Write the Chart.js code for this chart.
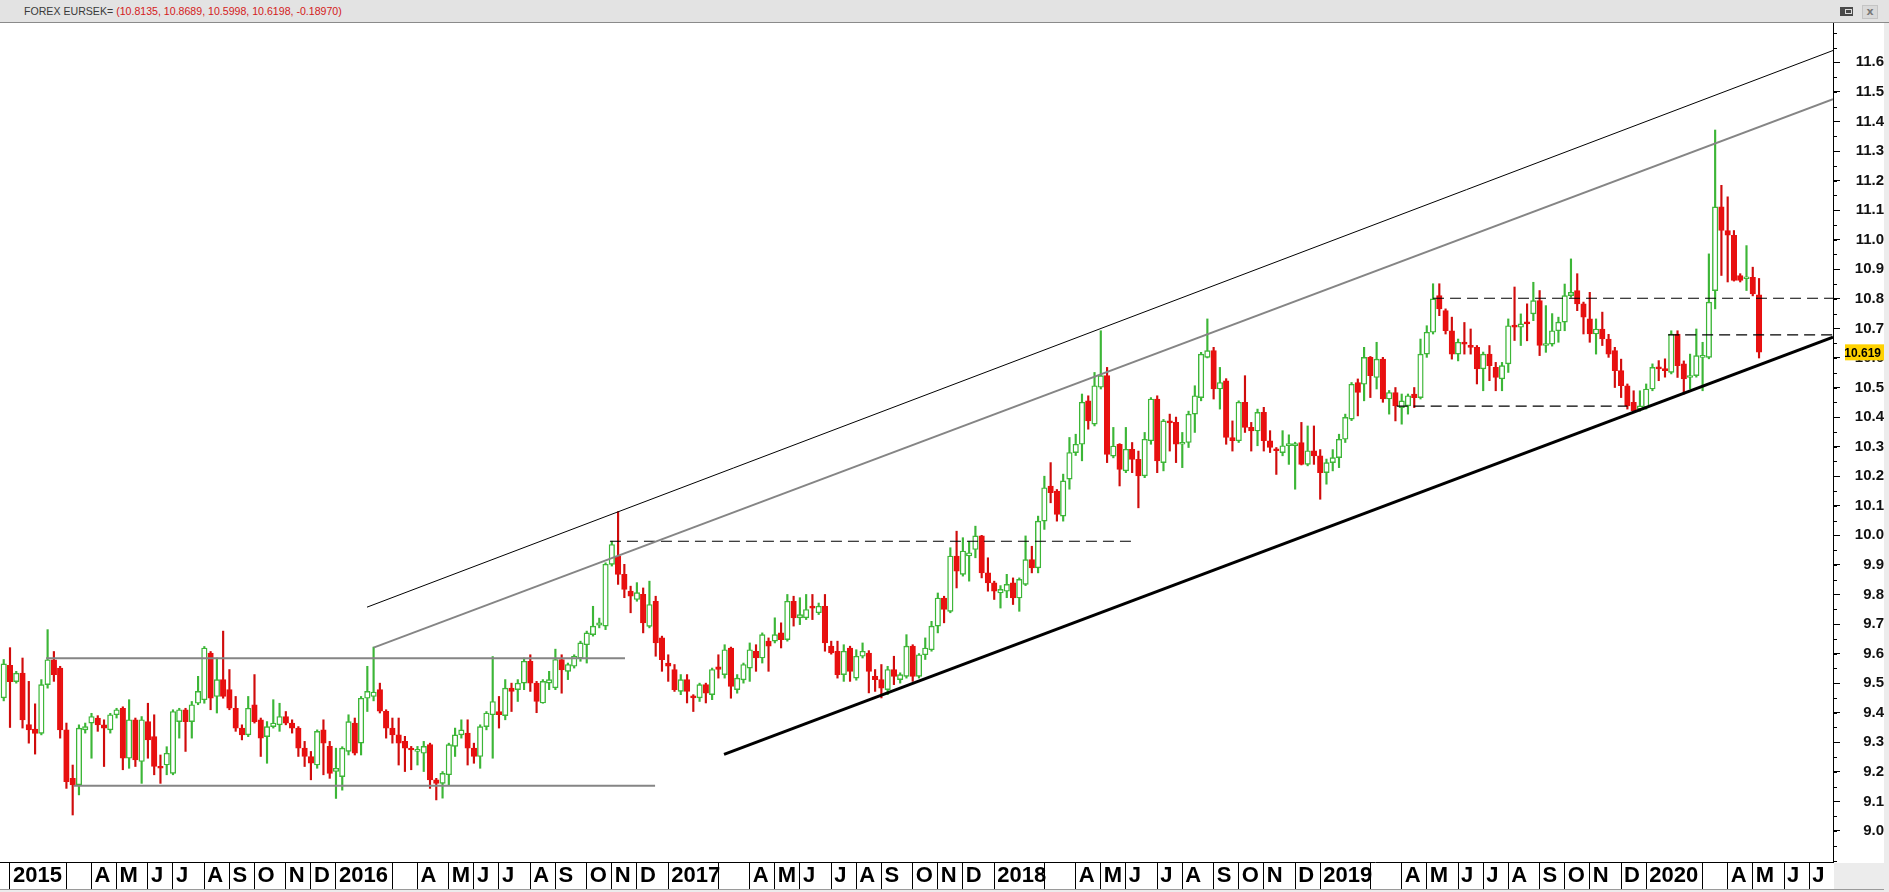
<!DOCTYPE html>
<html>
<head>
<meta charset="utf-8">
<script src="https://cdn.jsdelivr.net/npm/chart.js@4.4.0/dist/chart.umd.min.js"></script>
<style>
  html, body { margin: 0; padding: 0; background: #ececec; overflow: hidden; width: 1889px; height: 892px; }
  #hdr { position: absolute; left: 0; top: 0; width: 1889px; height: 22px; background: #e3e3e3;
         border-bottom: 1px solid #8a8a8a; font: 10.6px "Liberation Sans", Arial, sans-serif; line-height: 22px; }
  #hdr .txt { position: absolute; left: 24px; top: 0; white-space: nowrap; }
  #hdr .sym { color: #3a3a3a; }
  #hdr .vals { color: #d42020; }
  #hdr .restore { position: absolute; left: 1840px; top: 7px; width: 13px; height: 9px; background: #4a4a4a; }
  #hdr .restore i { position: absolute; left: 5px; top: 2px; width: 5px; height: 3px; border: 1px solid #ddd; }
  #hdr .close { position: absolute; left: 1862px; top: 5px; width: 14px; height: 12px; background: #d9d9d9;
                border: 1px solid #c4c4c4; color: #7a7a7a; font: bold 11px "DejaVu Sans", sans-serif;
                line-height: 12px; text-align: center; }
  #wrap { position: absolute; left: 0; top: 23px; width: 1884px; height: 866px; background: #fff;
          border-bottom: 1px solid #9a9a9a; }
</style>
</head>
<body>
<div id="hdr">
  <div class="txt"><span class="sym">FOREX EURSEK=</span> <span class="vals" id="vals"></span></div>
  <div class="restore"><i></i></div>
  <div class="close">x</div>
</div>
<div id="wrap"><canvas id="chart" width="1884" height="866"></canvas></div>
<script>
// weekly EURSEK bars, first bar is the week ending 2014-12-26
const firstWeek = Date.UTC(2014, 11, 26);

const opens = [
  9.45, 9.56, 9.505, 9.534, 9.36, 9.345, 9.33, 9.495, 9.579, 9.551,
  9.342, 9.178, 9.156, 9.342, 9.365, 9.382, 9.359, 9.342, 9.393, 9.415,
  9.246, 9.376, 9.235, 9.37, 9.319, 9.218, 9.223, 9.195, 9.37, 9.41,
  9.37, 9.432, 9.444, 9.602, 9.455, 9.512, 9.478, 9.415, 9.348, 9.325,
  9.427, 9.376, 9.319, 9.353, 9.359, 9.387, 9.365, 9.348, 9.28, 9.252,
  9.223, 9.342, 9.286, 9.201, 9.184, 9.269, 9.365, 9.297, 9.449, 9.455,
  9.478, 9.405, 9.348, 9.325, 9.303, 9.28, 9.269, 9.263, 9.292, 9.173,
  9.161, 9.19, 9.286, 9.325, 9.331, 9.28, 9.252, 9.353, 9.393, 9.404,
  9.39, 9.483, 9.478, 9.5, 9.574, 9.5, 9.433, 9.5, 9.484, 9.58,
  9.54, 9.557, 9.585, 9.63, 9.664, 9.696, 9.693, 9.902, 9.93, 9.868,
  9.811, 9.783, 9.8, 9.692, 9.777, 9.653, 9.568, 9.546, 9.472, 9.512,
  9.455, 9.45, 9.495, 9.461, 9.555, 9.529, 9.619, 9.478, 9.511, 9.551,
  9.608, 9.585, 9.642, 9.642, 9.67, 9.647, 9.777, 9.721, 9.721, 9.76,
  9.738, 9.76, 9.625, 9.608, 9.529, 9.619, 9.517, 9.591, 9.602, 9.523,
  9.512, 9.478, 9.546, 9.512, 9.523, 9.625, 9.523, 9.596, 9.613, 9.693,
  9.788, 9.743, 9.93, 9.868, 9.93, 9.952, 9.998, 9.873, 9.839, 9.805,
  9.811, 9.839, 9.788, 9.834, 9.918, 9.89, 10.048, 10.167, 10.15, 10.065,
  10.19, 10.28, 10.308, 10.455, 10.376, 10.501, 10.54, 10.268, 10.308, 10.218,
  10.291, 10.257, 10.201, 10.32, 10.461, 10.246, 10.387, 10.382, 10.308, 10.314,
  10.41, 10.466, 10.602, 10.625, 10.495, 10.523, 10.331, 10.32, 10.45, 10.365,
  10.353, 10.416, 10.32, 10.291, 10.28, 10.303, 10.303, 10.314, 10.24, 10.286,
  10.269, 10.212, 10.246, 10.263, 10.325, 10.393, 10.517, 10.511, 10.602, 10.534,
  10.596, 10.461, 10.483, 10.432, 10.438, 10.478, 10.466, 10.613, 10.687, 10.811,
  10.76, 10.692, 10.613, 10.653, 10.642, 10.636, 10.563, 10.613, 10.568, 10.529,
  10.58, 10.709, 10.704, 10.721, 10.749, 10.794, 10.642, 10.647, 10.692, 10.721,
  10.811, 10.828, 10.783, 10.732, 10.681, 10.698, 10.664, 10.625, 10.557, 10.506,
  10.45, 10.427, 10.433, 10.495, 10.568, 10.563, 10.551, 10.681, 10.58, 10.534,
  10.54, 10.602, 10.602, 10.828, 11.111, 11.031, 11.015, 10.879, 10.868, 10.873,
  10.8135
];
const highs = [
  9.58, 9.62, 9.54, 9.585, 9.506, 9.43, 9.512, 9.681, 9.607, 9.557,
  9.365, 9.223, 9.359, 9.365, 9.398, 9.39, 9.376, 9.398, 9.415, 9.42,
  9.444, 9.382, 9.387, 9.432, 9.393, 9.257, 9.285, 9.41, 9.415, 9.415,
  9.438, 9.523, 9.624, 9.607, 9.585, 9.676, 9.546, 9.455, 9.359, 9.455,
  9.529, 9.382, 9.37, 9.444, 9.432, 9.404, 9.376, 9.353, 9.303, 9.269,
  9.342, 9.376, 9.303, 9.28, 9.285, 9.393, 9.382, 9.455, 9.557, 9.622,
  9.5, 9.41, 9.382, 9.382, 9.32, 9.286, 9.286, 9.303, 9.297, 9.178,
  9.201, 9.297, 9.348, 9.376, 9.376, 9.297, 9.359, 9.404, 9.59, 9.455,
  9.512, 9.5, 9.512, 9.585, 9.596, 9.506, 9.512, 9.54, 9.615, 9.596,
  9.568, 9.596, 9.642, 9.676, 9.76, 9.72, 9.907, 9.98, 10.08, 9.902,
  9.828, 9.84, 9.822, 9.845, 9.794, 9.659, 9.596, 9.563, 9.529, 9.529,
  9.461, 9.5, 9.5, 9.551, 9.596, 9.63, 9.622, 9.529, 9.568, 9.636,
  9.63, 9.67, 9.653, 9.721, 9.704, 9.8, 9.794, 9.789, 9.8, 9.8,
  9.771, 9.8, 9.642, 9.642, 9.63, 9.625, 9.613, 9.636, 9.61, 9.546,
  9.563, 9.557, 9.591, 9.535, 9.664, 9.63, 9.6, 9.653, 9.709, 9.805,
  9.794, 9.958, 10.014, 9.992, 9.98, 10.031, 10.0, 9.924, 9.845, 9.83,
  9.868, 9.856, 9.856, 9.998, 9.963, 10.065, 10.2, 10.246, 10.155, 10.207,
  10.331, 10.342, 10.478, 10.472, 10.551, 10.692, 10.568, 10.365, 10.31, 10.365,
  10.314, 10.285, 10.348, 10.466, 10.472, 10.392, 10.41, 10.4, 10.348, 10.42,
  10.506, 10.619, 10.732, 10.636, 10.568, 10.53, 10.387, 10.455, 10.54, 10.382,
  10.427, 10.433, 10.354, 10.297, 10.354, 10.34, 10.315, 10.382, 10.37, 10.37,
  10.29, 10.258, 10.29, 10.342, 10.41, 10.517, 10.529, 10.636, 10.605, 10.653,
  10.602, 10.49, 10.5, 10.478, 10.478, 10.5, 10.664, 10.709, 10.851, 10.851,
  10.766, 10.738, 10.664, 10.72, 10.698, 10.642, 10.62, 10.642, 10.585, 10.585,
  10.732, 10.84, 10.749, 10.783, 10.856, 10.828, 10.777, 10.75, 10.738, 10.85,
  10.935, 10.885, 10.789, 10.822, 10.732, 10.755, 10.68, 10.636, 10.596, 10.512,
  10.489, 10.489, 10.512, 10.58, 10.591, 10.597, 10.692, 10.692, 10.59, 10.613,
  10.698, 10.653, 10.952, 11.371, 11.184, 11.145, 11.031, 10.885, 10.98, 10.907,
  10.8689
];
const lows = [
  9.44, 9.35, 9.5, 9.348, 9.297, 9.26, 9.325, 9.483, 9.506, 9.314,
  9.144, 9.054, 9.122, 9.331, 9.246, 9.337, 9.218, 9.331, 9.382, 9.207,
  9.212, 9.218, 9.161, 9.246, 9.19, 9.161, 9.19, 9.19, 9.314, 9.269,
  9.314, 9.427, 9.432, 9.41, 9.399, 9.449, 9.41, 9.337, 9.308, 9.319,
  9.365, 9.252, 9.229, 9.348, 9.337, 9.359, 9.331, 9.252, 9.218, 9.173,
  9.212, 9.19, 9.178, 9.11, 9.138, 9.257, 9.257, 9.257, 9.404, 9.44,
  9.399, 9.314, 9.297, 9.223, 9.201, 9.207, 9.223, 9.201, 9.144, 9.105,
  9.111, 9.155, 9.252, 9.314, 9.223, 9.229, 9.212, 9.342, 9.246, 9.348,
  9.376, 9.404, 9.438, 9.478, 9.472, 9.4, 9.432, 9.478, 9.478, 9.466,
  9.512, 9.551, 9.574, 9.568, 9.659, 9.687, 9.681, 9.896, 9.834, 9.789,
  9.738, 9.777, 9.67, 9.687, 9.591, 9.54, 9.506, 9.472, 9.461, 9.433,
  9.404, 9.438, 9.433, 9.444, 9.517, 9.517, 9.449, 9.466, 9.5, 9.506,
  9.54, 9.568, 9.54, 9.636, 9.619, 9.642, 9.693, 9.698, 9.715, 9.715,
  9.732, 9.608, 9.598, 9.517, 9.506, 9.506, 9.51, 9.585, 9.467, 9.472,
  9.45, 9.461, 9.495, 9.5, 9.517, 9.506, 9.517, 9.58, 9.608, 9.67,
  9.704, 9.738, 9.822, 9.862, 9.845, 9.924, 9.856, 9.811, 9.783, 9.754,
  9.789, 9.766, 9.743, 9.83, 9.873, 9.873, 10.02, 10.11, 10.048, 10.048,
  10.156, 10.27, 10.252, 10.359, 10.37, 10.495, 10.246, 10.262, 10.167, 10.212,
  10.212, 10.093, 10.195, 10.308, 10.212, 10.218, 10.285, 10.246, 10.229, 10.297,
  10.348, 10.455, 10.6, 10.461, 10.427, 10.308, 10.285, 10.314, 10.348, 10.285,
  10.303, 10.285, 10.28, 10.206, 10.269, 10.24, 10.156, 10.238, 10.235, 10.24,
  10.122, 10.173, 10.218, 10.229, 10.314, 10.388, 10.404, 10.455, 10.466, 10.495,
  10.45, 10.41, 10.387, 10.376, 10.41, 10.432, 10.461, 10.602, 10.681, 10.743,
  10.681, 10.596, 10.59, 10.613, 10.613, 10.512, 10.489, 10.523, 10.489, 10.489,
  10.551, 10.659, 10.642, 10.658, 10.726, 10.608, 10.619, 10.64, 10.653, 10.692,
  10.805, 10.76, 10.681, 10.653, 10.613, 10.642, 10.602, 10.5, 10.466, 10.427,
  10.415, 10.42, 10.427, 10.489, 10.523, 10.535, 10.546, 10.534, 10.478, 10.495,
  10.535, 10.489, 10.597, 10.766, 10.879, 10.857, 10.86, 10.857, 10.828, 10.81,
  10.5998
];
const closes = [
  9.565, 9.505, 9.534, 9.376, 9.342, 9.33, 9.495, 9.579, 9.529, 9.342,
  9.167, 9.156, 9.348, 9.353, 9.387, 9.359, 9.348, 9.393, 9.41, 9.246,
  9.376, 9.24, 9.376, 9.308, 9.218, 9.212, 9.263, 9.404, 9.41, 9.37,
  9.427, 9.472, 9.619, 9.449, 9.512, 9.455, 9.415, 9.348, 9.325, 9.415,
  9.37, 9.314, 9.353, 9.365, 9.387, 9.365, 9.348, 9.28, 9.252, 9.229,
  9.337, 9.297, 9.195, 9.212, 9.28, 9.37, 9.263, 9.449, 9.472, 9.47,
  9.405, 9.348, 9.325, 9.297, 9.28, 9.274, 9.274, 9.286, 9.173, 9.161,
  9.195, 9.292, 9.325, 9.342, 9.28, 9.252, 9.353, 9.399, 9.438, 9.393,
  9.483, 9.472, 9.5, 9.574, 9.5, 9.438, 9.506, 9.512, 9.58, 9.545,
  9.563, 9.591, 9.636, 9.67, 9.693, 9.704, 9.902, 9.969, 9.868, 9.817,
  9.794, 9.806, 9.704, 9.766, 9.636, 9.579, 9.557, 9.478, 9.512, 9.472,
  9.45, 9.495, 9.466, 9.546, 9.546, 9.613, 9.489, 9.517, 9.563, 9.613,
  9.585, 9.664, 9.625, 9.664, 9.647, 9.777, 9.721, 9.732, 9.749, 9.754,
  9.76, 9.636, 9.602, 9.529, 9.608, 9.54, 9.591, 9.608, 9.54, 9.512,
  9.483, 9.546, 9.523, 9.529, 9.625, 9.523, 9.596, 9.619, 9.693, 9.788,
  9.749, 9.93, 9.879, 9.947, 9.941, 9.998, 9.873, 9.839, 9.811, 9.817,
  9.834, 9.788, 9.851, 9.918, 9.89, 10.048, 10.161, 10.144, 10.071, 10.184,
  10.28, 10.308, 10.45, 10.387, 10.506, 10.54, 10.274, 10.302, 10.223, 10.291,
  10.257, 10.201, 10.325, 10.461, 10.252, 10.387, 10.38, 10.308, 10.314, 10.41,
  10.472, 10.613, 10.625, 10.495, 10.517, 10.331, 10.32, 10.45, 10.365, 10.353,
  10.416, 10.32, 10.297, 10.286, 10.303, 10.31, 10.31, 10.24, 10.286, 10.269,
  10.212, 10.246, 10.263, 10.325, 10.399, 10.511, 10.483, 10.602, 10.54, 10.596,
  10.461, 10.483, 10.438, 10.455, 10.472, 10.466, 10.613, 10.687, 10.8, 10.766,
  10.692, 10.613, 10.653, 10.647, 10.636, 10.563, 10.613, 10.574, 10.534, 10.574,
  10.709, 10.704, 10.715, 10.715, 10.794, 10.642, 10.647, 10.692, 10.721, 10.811,
  10.822, 10.783, 10.738, 10.681, 10.698, 10.664, 10.613, 10.557, 10.506, 10.438,
  10.421, 10.438, 10.495, 10.568, 10.563, 10.557, 10.681, 10.574, 10.529, 10.54,
  10.608, 10.608, 10.789, 11.111, 11.031, 11.015, 10.862, 10.862, 10.873, 10.817,
  10.6198
];

// header quote: open, high, low, close, change
const quote = [10.8135, 10.8689, 10.5998, 10.6198, -0.18970];
const lastPrice = 10.619;

// month labels on the time axis (Feb has no tick, Mar has a tick but no text)
const monthLabels = ['', null, '', 'A', 'M', 'J', 'J', 'A', 'S', 'O', 'N', 'D'];
const priceTicks = [9.0, 9.1, 9.2, 9.3, 9.4, 9.5, 9.6, 9.7, 9.8, 9.9, 10.0, 10.1, 10.2, 10.3,
                    10.4, 10.5, 10.6, 10.7, 10.8, 10.9, 11.0, 11.1, 11.2, 11.3, 11.4, 11.5, 11.6];

// drawn studies: [week index, price] end points
const channelTop = [[57.95, 9.757], [291.8, 11.64]];
const channelMid = [[59, 9.62], [291.8, 11.475]];
const supportLine = [[114.9, 9.259], [291.8, 10.67]];
const rangeTop = [[6.74, 9.584], [99.1, 9.584]];
const rangeBottom = [[11.2, 9.153], [103.9, 9.153]];
const level1 = [[96.7, 9.98], [180, 9.98]];
const level2 = [[228, 10.802], [291.8, 10.802]];
const level3 = [[222.2, 10.437], [259, 10.437]];
const level4 = [[265.5, 10.678], [291.8, 10.678]];

document.getElementById('vals').textContent =
  '(' + quote.slice(0, 4).map(v => v.toFixed(4)).join(', ') + ', ' + quote[4].toFixed(5) + ')';

const upColor = '#3cb637';
const downColor = '#e81010';
const isUp = closes.map((c, i) => c >= opens[i]);

// first bar of each month -> axis tick
const monthTicks = [];
let prevMonth = new Date(firstWeek).getUTCMonth();
for (let i = 1; i <= 291; i++) {
  const d = new Date(firstWeek + i * 7 * 864e5);
  const m = d.getUTCMonth();
  if (m !== prevMonth && monthLabels[m] !== null) {
    monthTicks.push({ value: i, label: m === 0 ? String(d.getUTCFullYear()) : monthLabels[m] });
  }
  prevMonth = m;
}
const tickText = {};
monthTicks.forEach(t => { tickText[t.value] = t.label; });

function studyLine(pts, color, width, dash) {
  return {
    type: 'line',
    data: pts.map(p => ({ x: p[0], y: p[1] })),
    borderColor: color,
    borderWidth: width,
    borderDash: dash || [],
    pointRadius: 0,
    fill: false,
    tension: 0,
    order: 0
  };
}

const dash = [11, 6];

// small ticks between the labelled ones + the last price tag
const axisExtras = {
  id: 'axisExtras',
  beforeDraw(chart) {
    const ctx = chart.ctx, a = chart.chartArea;
    ctx.save();
    ctx.fillStyle = '#ececec';
    ctx.fillRect(a.right + 1, a.bottom + 1, chart.width - a.right, chart.height - a.bottom);
    ctx.restore();
  },
  afterDraw(chart) {
    const ctx = chart.ctx, y = chart.scales.y, a = chart.chartArea;
    ctx.save();
    ctx.strokeStyle = '#000';
    ctx.lineWidth = 1;
    for (let v = 8.9; v < 11.75; v += 0.05) {
      const py = Math.round(y.getPixelForValue(v)) + 0.5;
      if (py < a.top || py > a.bottom) continue;
      ctx.beginPath();
      ctx.moveTo(a.right, py);
      ctx.lineTo(a.right + 4, py);
      ctx.stroke();
    }
    const py = y.getPixelForValue(lastPrice);
    ctx.fillStyle = '#ffd200';
    ctx.fillRect(1845, py - 8, 39, 16);
    ctx.fillStyle = '#000';
    ctx.font = 'bold 12px "Liberation Sans", Arial, sans-serif';
    ctx.textAlign = 'right';
    ctx.textBaseline = 'middle';
    ctx.fillText(lastPrice.toFixed(3), 1881, py + 1);
    ctx.restore();
  }
};

Chart.defaults.font.family = '"Liberation Sans", Arial, sans-serif';

new Chart(document.getElementById('chart'), {
  type: 'bar',
  data: {
    datasets: [
      studyLine(channelTop, '#000', 1),
      studyLine(channelMid, '#858585', 2),
      studyLine(supportLine, '#000', 3),
      studyLine(rangeTop, '#858585', 2),
      studyLine(rangeBottom, '#858585', 2),
      studyLine(level1, '#000', 1.2, dash),
      studyLine(level2, '#000', 1.2, dash),
      studyLine(level3, '#000', 1.2, dash),
      studyLine(level4, '#000', 1.2, dash),
      {
        label: 'body',
        data: opens.map((o, i) => ({ x: i, y: [o, closes[i]] })),
        grouped: false,
        barThickness: 5.5,
        minBarLength: 2,
        borderWidth: 1.4,
        borderSkipped: false,
        backgroundColor: isUp.map(u => u ? '#ffffff' : downColor),
        borderColor: isUp.map(u => u ? upColor : downColor),
        order: 1
      },
      {
        label: 'wick',
        data: lows.map((l, i) => ({ x: i, y: [l, highs[i]] })),
        grouped: false,
        barThickness: 1.5,
        borderWidth: 0,
        backgroundColor: isUp.map(u => u ? upColor : '#d00c0c'),
        order: 2
      }
    ]
  },
  options: {
    responsive: false,
    animation: false,
    devicePixelRatio: 1,
    layout: { padding: 0 },
    plugins: { legend: { display: false }, tooltip: { enabled: false }, title: { display: false } },
    scales: {
      x: {
        type: 'linear',
        min: -0.595,
        max: 291.8,
        offset: false,
        grid: { offset: false, drawOnChartArea: false, tickLength: 27, color: '#000', lineWidth: 1 },
        border: { color: '#000', width: 1 },
        ticks: {
          autoSkip: false, maxRotation: 0, minRotation: 0,
          align: 'start', labelOffset: 3, padding: -26,
          color: '#000', font: { size: 22, weight: 'bold' },
          callback: v => tickText[v] || ''
        },
        afterBuildTicks: s => { s.ticks = monthTicks.map(t => ({ value: t.value })); },
        afterFit: s => { s.height = 27; s.paddingLeft = 0; s.paddingRight = 0; }
      },
      y: {
        type: 'linear',
        position: 'right',
        min: 8.895,
        max: 11.733,
        beginAtZero: false,
        grid: { drawOnChartArea: false, tickLength: 7, color: '#000' },
        border: { color: '#000', width: 1 },
        ticks: {
          crossAlign: 'far', padding: 9,
          color: '#111', font: { size: 15, weight: 'bold' },
          callback: v => v.toFixed(1)
        },
        afterBuildTicks: s => { s.ticks = priceTicks.map(v => ({ value: v })); },
        afterFit: s => { s.width = 51; s.paddingTop = 0; s.paddingBottom = 0; }
      }
    }
  },
  plugins: [axisExtras]
});
</script>
</body>
</html>
